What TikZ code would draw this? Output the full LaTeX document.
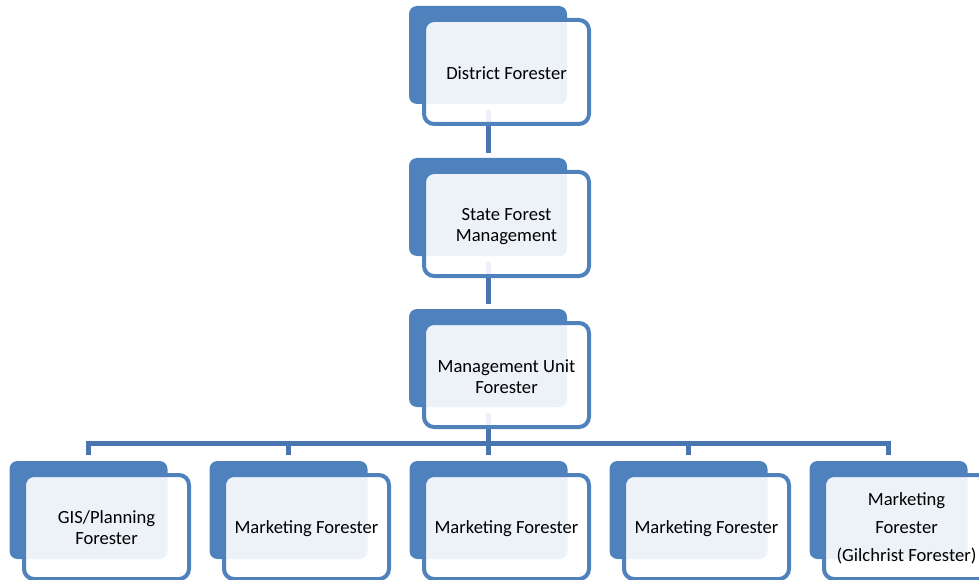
\documentclass[tikz,border=0pt]{standalone}
\usepackage{fontspec}
\setmainfont{Carlito}
\definecolor{boxblue}{HTML}{4F81BD}
\definecolor{linkblue}{HTML}{4A76B0}
\begin{document}
\begin{tikzpicture}[x=1pt,y=-1pt,
  back/.style={draw=none, fill=boxblue, rounded corners=8pt, minimum width=158pt, minimum height=98pt, inner sep=0pt},
  front/.style={draw=boxblue, line width=4pt, fill=white, fill opacity=0.9, rounded corners=10pt, minimum width=165pt, minimum height=104pt, inner sep=0pt},
  txt/.style={align=center, inner sep=0pt, font=\fontsize{18.6}{21}\selectfont, text=black},
  link/.style={draw=linkblue, line width=5pt}
]
\useasboundingbox (0,0) rectangle (979,580);
\clip (0,0) rectangle (979,580);

% back boxes
\node[back] (b1) at (488,55) {};
\node[back] (b2) at (488,207) {};
\node[back] (b3) at (488,358) {};
\foreach \i in {0,...,4}{
  \node[back] (c\i) at (88.5+200*\i,510) {};
}

% connectors
\draw[link, shorten <=6pt, shorten >=5pt] (b1.south) -- (b2.north);
\draw[link, shorten <=6pt, shorten >=5pt] (b2.south) -- (b3.north);
\path (b3.south) ++(0,36) coordinate (bus);
\draw[link, shorten <=6pt] (b3.south) -- (bus);
\foreach \i in {0,...,4}{
  \draw[link, shorten >=6pt] (bus) -| (c\i.north);
}

% front boxes
\node[front] (f1) at (506.5,72) {};
\node[front] (f2) at (506.5,224) {};
\node[front] (f3) at (506.5,375) {};
\foreach \i in {0,...,4}{
  \node[front] (g\i) at (106.5+200*\i,527) {};
}

% texts
\node[txt] (t1) at ([yshift=-1.5pt]f1.center) {District Forester};
\node[txt] (t2) at ([yshift=-2.5pt]f2.center) {State Forest\\Management};
\node[txt] (t3) at ([yshift=-1.5pt]f3.center) {Management Unit\\Forester};
\node[txt] (u0) at ([yshift=-0.5pt]g0.center) {GIS/Planning\\Forester};
\node[txt] (u1) at ([yshift=-2pt]g1.center) {Marketing Forester};
\node[txt] (u2) at ([yshift=-2pt]g2.center) {Marketing Forester};
\node[txt] (u3) at ([yshift=-2pt]g3.center) {Marketing Forester};
\node[txt] (u4) at ([yshift=-1.5pt]g4.center) {Marketing\\[7pt]Forester\\[7pt](Gilchrist Forester)};
\end{tikzpicture}
\end{document}
